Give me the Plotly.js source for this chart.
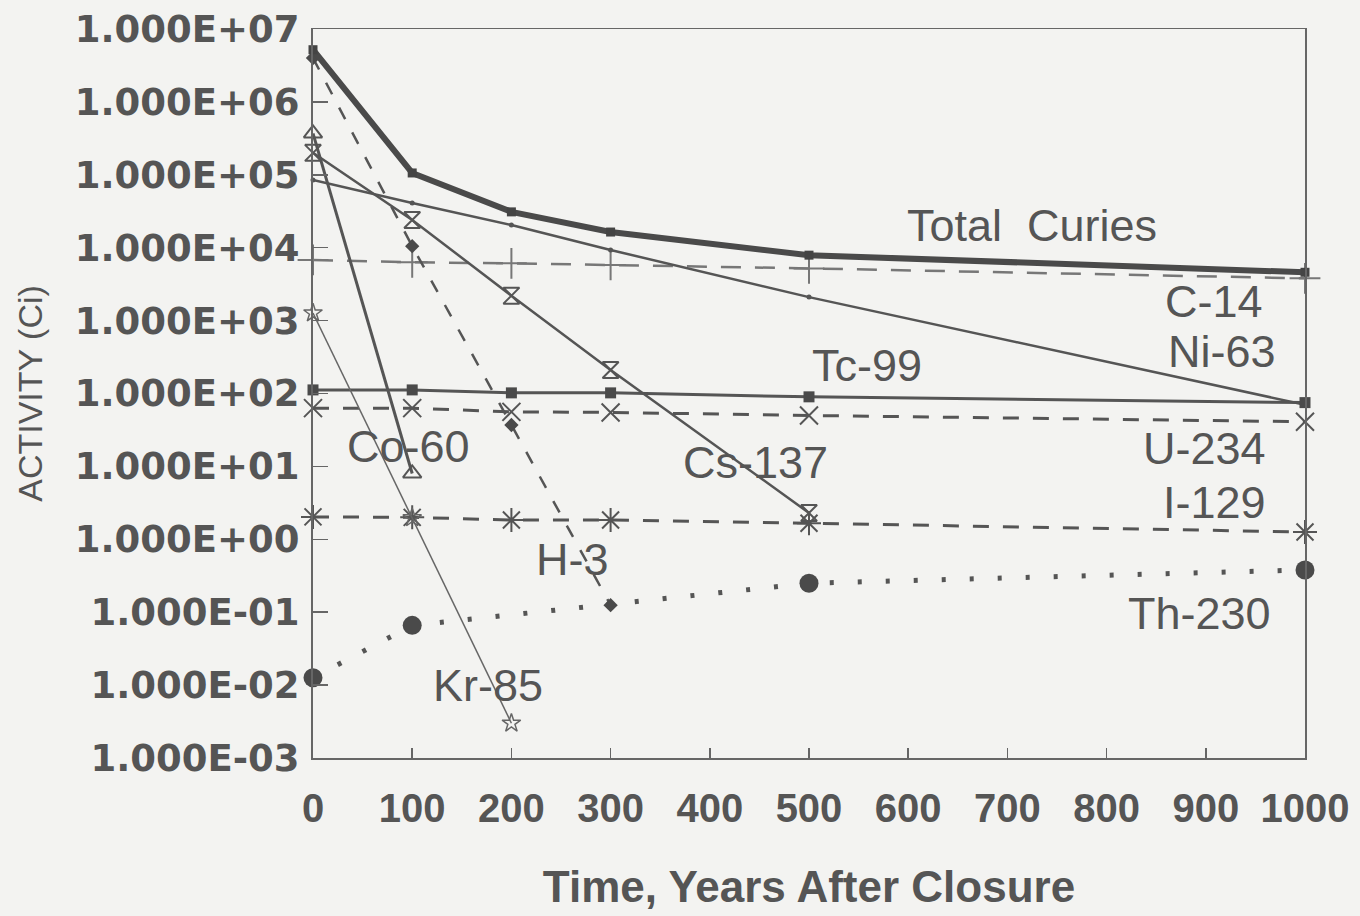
<!DOCTYPE html>
<html>
<head>
<meta charset="utf-8">
<script src="https://cdn.plot.ly/plotly-3.0.1.min.js"></script>
<style>
  html, body { margin: 0; padding: 0; background: #f3f3f1; }
  #chart { width: 1360px; height: 916px; }
</style>
</head>
<body>
<div id="chart"></div>
<script>
// Time points (years after closure)
const years      = [0, 100, 200, 300, 500, 1000];
const yearsCs    = [0, 100, 200, 300, 500];
const yearsCo    = [0, 100];
const yearsKr    = [0, 100, 200];
const yearsH3    = [0, 100, 200, 300];
const yearsTh    = [0, 100, 500, 1000];

// Activity (Ci)
const totalCuries = [5.2e6, 1.06e5, 3.1e4, 1.64e4, 7.9e3, 4.6e3];
const c14   = [6.8e3, 6.3e3, 6.1e3, 5.8e3, 5.2e3, 3.8e3];
const ni63  = [8.5e4, 4.1e4, 2.05e4, 9.3e3, 2.1e3, 70];
const tc99  = [112, 112, 102, 102, 90, 75];
const u234  = [63, 63, 56, 55, 50, 41];
const i129  = [2.03, 2.0, 1.84, 1.84, 1.66, 1.26];
const cs137 = [2.0e5, 2.4e4, 2.2e3, 210, 2.3];
const co60  = [3.7e5, 8];
const kr85  = [1270, 1.97, 3.0e-3];
const h3    = [4.0e6, 1.05e4, 37, 0.125];
const th230 = [0.0126, 0.066, 0.25, 0.38];

// Tick labels
const yTickVals = [1e-3, 1e-2, 1e-1, 1e0, 1e1, 1e2, 1e3, 1e4, 1e5, 1e6, 1e7];
const yTickText = ["1.000E-03", "1.000E-02", "1.000E-01", "1.000E+00", "1.000E+01",
                   "1.000E+02", "1.000E+03", "1.000E+04", "1.000E+05", "1.000E+06", "1.000E+07"];
const xTickVals = [0, 100, 200, 300, 400, 500, 600, 700, 800, 900, 1000];

// Curve labels
const labelText = ["Total  Curies", "C-14", "Ni-63", "Tc-99", "Co-60", "Cs-137", "U-234", "I-129", "H-3", "Th-230", "Kr-85"];
const labelX    = [725, 908, 916, 558, 96, 446, 899, 909, 262, 894, 176];
const labelY    = [4.31, 3.26, 2.57, 2.39, 1.27, 1.06, 1.25, 0.51, -0.28, -1.02, -2.01];

const ink = '#555555';

function tr(x, y, name, line, marker) {
  return { x: x, y: y, name: name, type: 'scatter', mode: 'lines+markers',
           line: line, marker: marker, cliponaxis: false, showlegend: false };
}

const data = [
  tr(yearsTh, th230, 'Th-230', {color: ink, width: 5, dash: '4px,24px'},
     {symbol: 'circle', size: 19, color: '#4a4a4a'}),
  tr(years, c14, 'C-14', {color: '#777', width: 2.5, dash: '20px,14px'},
     {symbol: 'cross-thin-open', size: 22, line: {color: '#666', width: 2}}),
  tr(years, u234, 'U-234', {color: ink, width: 3, dash: '16px,14px'},
     {symbol: 'x-thin-open', size: 18, line: {color: '#666', width: 2}}),
  tr(years, i129, 'I-129', {color: ink, width: 3, dash: '16px,14px'},
     {symbol: 'asterisk-open', size: 20, line: {color: '#666', width: 2}}),
  tr(yearsH3, h3, 'H-3', {color: ink, width: 2.5, dash: '13px,15px'},
     {symbol: 'diamond', size: 11, color: '#4a4a4a'}),
  tr(years, ni63, 'Ni-63', {color: ink, width: 2.5},
     {symbol: 'circle', size: 5, color: ink}),
  tr(years, tc99, 'Tc-99', {color: ink, width: 3},
     {symbol: 'square', size: 11, color: '#4a4a4a'}),
  tr(yearsCs, cs137, 'Cs-137', {color: ink, width: 2.5},
     {symbol: 'hourglass-open', size: 16, line: {color: '#666', width: 2}}),
  tr(yearsCo, co60, 'Co-60', {color: ink, width: 3},
     {symbol: 'triangle-up-open', size: 16, line: {color: '#777', width: 2}}),
  tr(yearsKr, kr85, 'Kr-85', {color: '#666', width: 1.5},
     {symbol: 'star-open', size: 14, line: {color: '#555', width: 1.5}}),
  tr(years, totalCuries, 'Total Curies', {color: '#4a4a4a', width: 6},
     {symbol: 'square', size: 9, color: '#444'})
];

const annotations = labelText.map((t, i) => ({
  x: labelX[i], y: labelY[i], xref: 'x', yref: 'y', text: t, showarrow: false,
  font: {family: 'Liberation Sans, Arial, sans-serif', size: 45, color: ink},
  xanchor: 'center', yanchor: 'middle'
}));

const layout = {
  width: 1360, height: 916,
  paper_bgcolor: '#f3f3f1', plot_bgcolor: '#f3f3f1',
  margin: {l: 313, r: 55, t: 29, b: 158},
  showlegend: false,
  xaxis: {
    range: [0, 1000], tickvals: xTickVals, ticktext: xTickVals.map(String),
    ticks: 'inside', ticklen: 10, tickwidth: 1.5, tickcolor: '#666',
    showline: true, linecolor: '#666', linewidth: 1.5, mirror: true,
    showgrid: false, zeroline: false, ticklabelstandoff: 14,
    tickfont: {family: 'Liberation Sans, Arial, sans-serif', size: 40, color: ink, weight: 'bold'},
    title: {text: 'Time, Years After Closure', standoff: 42,
            font: {family: 'Liberation Sans, Arial, sans-serif', size: 44, color: ink, weight: 'bold'}}
  },
  yaxis: {
    type: 'log', range: [-3, 7], tickvals: yTickVals, ticktext: yTickText,
    ticks: 'inside', ticklen: 15, tickwidth: 1.5, tickcolor: '#666',
    showline: true, linecolor: '#666', linewidth: 2, mirror: true,
    showgrid: false, zeroline: false, ticklabelstandoff: 4,
    tickfont: {family: 'DejaVu Sans, sans-serif', size: 37, color: ink, weight: 'bold'},
    title: {text: 'ACTIVITY (Ci)', standoff: 22,
            font: {family: 'Liberation Sans, Arial, sans-serif', size: 34, color: ink}}
  },
  annotations: annotations
};

Plotly.newPlot('chart', data, layout, {staticPlot: true, displayModeBar: false});
</script>
</body>
</html>
